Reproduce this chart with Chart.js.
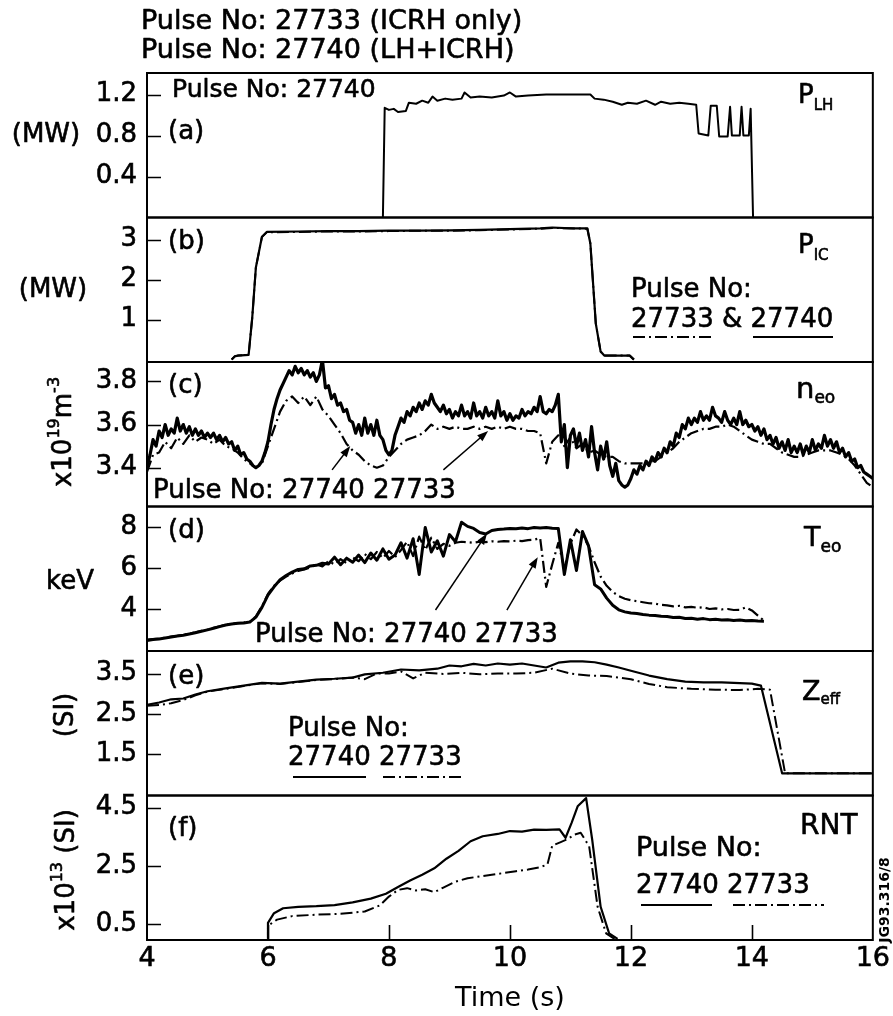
<!DOCTYPE html>
<html>
<head>
<meta charset="utf-8">
<title>JET pulses 27733 / 27740</title>
<script src="https://cdn.jsdelivr.net/npm/chart.js@4.4.1/dist/chart.umd.min.js"></script>
<style>
  html, body { margin: 0; padding: 0; background: #fff; }
  canvas { display: block; }
</style>
</head>
<body>
<canvas id="plot" width="893" height="1016" style="width:893px;height:1016px"></canvas>
<script>
// ---- shared time axis ----
const timeRange = [4, 16];
const timeTicks = [4, 6, 8, 10, 12, 14, 16];
const timeInnerTicks = [6, 8, 10, 12, 14];

// ---- (a) LH power, pulse 27740 (MW) ----
const plhTime = [7.9,7.93,8.0,8.08,8.15,8.28,8.33,8.45,8.55,8.65,8.72,8.8,8.93,9.05,9.2,9.25,9.35,9.5,9.7,9.9,
  10.0,10.1,10.3,10.6,10.9,11.2,11.33,11.4,11.55,11.7,11.85,11.95,12.1,12.25,12.4,12.5,12.65,12.8,12.95,
  13.08,13.12,13.28,13.32,13.42,13.46,13.6,13.64,13.67,13.8,13.83,13.86,13.95,13.98,14.02];
const plh27740 = [0,1.07,1.05,1.06,1.03,1.04,1.12,1.11,1.14,1.12,1.18,1.14,1.16,1.15,1.16,1.22,1.17,1.18,1.17,1.19,
  1.22,1.18,1.19,1.20,1.20,1.20,1.20,1.16,1.15,1.13,1.10,1.12,1.11,1.14,1.10,1.13,1.11,1.12,1.11,
  1.10,0.82,0.80,1.09,1.09,0.79,0.79,1.08,0.80,0.80,1.08,0.80,0.80,1.06,0];

// ---- (b) ICRH power (MW) ----
const picTime = [5.4,5.45,5.5,5.68,5.74,5.8,5.9,5.98,6.5,7.0,7.5,8.0,8.5,9.0,9.5,10.0,10.5,10.7,11.0,11.28,11.33,11.42,11.5,11.56,11.98,12.05];
const pic27733 = [0,0.08,0.1,0.12,1.05,2.3,3.06,3.18,3.19,3.2,3.2,3.21,3.22,3.22,3.23,3.25,3.27,3.29,3.28,3.27,2.9,0.9,0.2,0.1,0.1,0];
const pic27740 = [0,0.08,0.1,0.12,1.05,2.3,3.07,3.19,3.2,3.21,3.21,3.22,3.22,3.23,3.24,3.26,3.28,3.3,3.28,3.28,2.9,0.9,0.2,0.1,0.1,0];

// ---- (c) central electron density (x10^19 m^-3), sampled from t = 4 s ----
const neoStart = 4.0;
const neo27740Step = 0.05;
const neo27740 = [
  3.40,3.46,3.53,3.50,3.57,3.54,3.60,3.55,3.58,3.56,3.63,3.57,3.60,3.56,3.59,3.55,3.58,3.55,3.57,3.54,
  3.56,3.54,3.56,3.53,3.55,3.52,3.54,3.51,3.52,3.48,3.50,3.46,3.47,3.44,3.43,3.41,3.40,3.41,3.43,3.47,
  3.52,3.60,3.67,3.72,3.76,3.79,3.82,3.85,3.83,3.87,3.84,3.86,3.83,3.85,3.82,3.84,3.80,3.83,3.90,3.77,
  3.78,3.72,3.74,3.69,3.70,3.66,3.67,3.62,3.61,3.56,3.60,3.55,3.63,3.56,3.60,3.55,3.62,3.55,3.53,3.48,
  3.46,3.48,3.55,3.59,3.63,3.61,3.66,3.64,3.68,3.66,3.70,3.67,3.71,3.69,3.74,3.70,3.68,3.66,3.69,3.65,
  3.67,3.63,3.66,3.64,3.69,3.64,3.66,3.63,3.70,3.64,3.66,3.63,3.68,3.64,3.66,3.63,3.71,3.64,3.66,3.62,
  3.65,3.62,3.64,3.63,3.67,3.64,3.66,3.65,3.68,3.66,3.73,3.66,3.65,3.67,3.66,3.69,3.74,3.52,3.60,3.40,
  3.55,3.58,3.50,3.56,3.48,3.53,3.45,3.59,3.47,3.39,3.50,3.44,3.52,3.41,3.36,3.42,3.34,3.32,3.31,3.32,
  3.35,3.39,3.37,3.41,3.39,3.43,3.41,3.45,3.43,3.47,3.45,3.49,3.47,3.52,3.50,3.56,3.54,3.60,3.58,3.63,
  3.60,3.63,3.61,3.66,3.62,3.64,3.62,3.68,3.64,3.63,3.61,3.66,3.62,3.60,3.63,3.60,3.66,3.60,3.62,3.59,
  3.60,3.57,3.59,3.55,3.58,3.53,3.55,3.51,3.54,3.49,3.52,3.48,3.53,3.47,3.50,3.47,3.51,3.46,3.50,3.47,
  3.53,3.48,3.51,3.49,3.55,3.50,3.53,3.49,3.52,3.47,3.49,3.45,3.47,3.43,3.44,3.40,3.41,3.38,3.37,3.36,3.35];
const neo27733Step = 0.1;
const neo27733 = [
  3.38,3.46,3.47,3.52,3.49,3.54,3.51,3.55,3.52,3.54,
  3.53,3.51,3.53,3.50,3.49,3.47,3.44,3.42,3.40,3.42,
  3.50,3.58,3.66,3.71,3.73,3.70,3.73,3.69,3.73,3.67,
  3.64,3.60,3.56,3.51,3.48,3.46,3.43,3.41,3.40,3.41,
  3.45,3.48,3.51,3.53,3.54,3.55,3.57,3.60,3.58,3.59,
  3.58,3.59,3.58,3.58,3.59,3.58,3.59,3.58,3.59,3.58,
  3.59,3.58,3.58,3.57,3.57,3.56,3.42,3.52,3.55,3.50,
  3.54,3.49,3.51,3.47,3.48,3.46,3.45,3.45,3.43,3.42,
  3.42,3.42,3.42,3.43,3.43,3.45,3.47,3.49,3.52,3.54,
  3.56,3.57,3.58,3.58,3.59,3.59,3.60,3.59,3.57,3.55,
  3.53,3.52,3.51,3.51,3.49,3.47,3.46,3.45,3.45,3.46,
  3.47,3.48,3.48,3.48,3.47,3.46,3.44,3.41,3.37,3.33,
  3.31];

// ---- (d) central electron temperature (keV), sampled every 0.1 s from t = 4 s ----
const teoStart = 4.0;
const teoStep = 0.1;
const teo27740 = [
  2.48,2.53,2.56,2.60,2.65,2.70,2.74,2.80,2.86,2.93,
  3.00,3.08,3.16,3.24,3.29,3.32,3.34,3.38,3.62,4.10,
  4.70,5.10,5.45,5.65,5.82,5.95,5.98,6.12,6.15,6.25,
  6.22,6.55,6.18,6.50,6.30,6.65,6.28,6.75,6.40,6.95,
  6.45,6.65,7.25,6.50,7.45,5.70,8.00,6.80,7.35,6.60,
  7.65,7.30,8.25,8.05,7.95,7.75,7.68,7.85,7.90,7.92,
  7.95,7.93,7.97,7.94,8.00,7.97,7.99,7.96,7.95,5.70,
  7.40,5.90,7.80,7.10,5.20,5.00,4.55,4.20,3.98,3.88,
  3.82,3.80,3.75,3.72,3.70,3.66,3.65,3.60,3.62,3.56,
  3.57,3.52,3.55,3.50,3.52,3.48,3.50,3.46,3.48,3.45,
  3.46,3.43,3.42];
const teo27733 = [
  2.52,2.55,2.58,2.62,2.67,2.71,2.76,2.82,2.88,2.95,
  3.02,3.10,3.18,3.25,3.30,3.33,3.36,3.40,3.65,4.15,
  4.75,5.15,5.40,5.60,5.75,5.88,5.95,6.05,6.20,6.10,
  6.35,6.20,6.45,6.25,6.55,6.35,6.70,6.45,6.80,6.50,
  6.85,6.55,6.90,7.30,6.60,7.55,6.90,7.50,6.95,7.20,
  7.10,7.25,7.30,7.28,7.25,7.30,7.28,7.32,7.30,7.33,
  7.32,7.35,7.33,7.38,7.40,7.48,5.10,6.20,7.25,6.00,
  7.20,7.90,7.60,7.10,6.30,5.60,5.15,4.85,4.65,4.52,
  4.45,4.40,4.35,4.30,4.28,4.22,4.20,4.15,4.17,4.10,
  4.12,4.08,4.10,4.02,4.05,4.00,4.02,3.97,3.98,4.10,
  3.95,3.70,3.45];

// ---- (e) Zeff ----
const zeffTime27740 = [4.0,4.2,4.4,4.6,4.8,5.0,5.3,5.6,5.9,6.2,6.5,6.8,7.1,7.4,7.6,7.9,8.2,8.5,8.8,9.0,9.2,9.4,9.6,9.8,
  10.0,10.2,10.4,10.6,10.8,11.0,11.2,11.4,11.6,11.8,12.0,12.3,12.6,12.9,13.2,13.5,13.8,14.0,14.15,14.5,16.0];
const zeff27740 = [2.72,2.78,2.86,2.88,2.98,3.06,3.13,3.20,3.27,3.25,3.30,3.35,3.37,3.40,3.48,3.52,3.60,3.58,3.62,3.70,3.68,3.74,3.70,3.75,
  3.72,3.75,3.70,3.65,3.77,3.80,3.80,3.78,3.72,3.65,3.57,3.45,3.36,3.30,3.28,3.28,3.26,3.25,3.20,1.02,1.02];
const zeffTime27733 = [4.0,4.2,4.4,4.6,4.8,5.0,5.3,5.6,5.9,6.2,6.5,6.8,7.1,7.4,7.6,7.8,8.0,8.2,8.4,8.6,8.9,9.2,9.5,9.8,
  10.1,10.4,10.7,11.0,11.3,11.6,12.0,12.3,12.6,13.0,13.4,13.8,14.1,14.3,14.55,16.0];
const zeff27733 = [2.70,2.72,2.76,2.84,2.96,3.05,3.12,3.19,3.26,3.24,3.29,3.34,3.36,3.40,3.36,3.50,3.50,3.55,3.38,3.52,3.49,3.52,3.48,3.50,
  3.50,3.52,3.62,3.50,3.45,3.44,3.36,3.24,3.16,3.12,3.10,3.09,3.12,3.10,1.02,1.02];

// ---- (f) neutron rate RNT (x10^13) ----
const rntTime27740 = [6.0,6.0,6.1,6.25,6.5,6.8,7.1,7.4,7.7,7.95,8.15,8.35,8.55,8.75,8.95,9.15,9.35,9.55,9.8,10.0,
  10.2,10.4,10.6,10.82,10.92,11.02,11.12,11.26,11.36,11.5,11.64,11.78];
const rnt27740 = [0,0.55,0.88,1.05,1.1,1.12,1.16,1.25,1.38,1.55,1.78,2.0,2.2,2.42,2.75,3.02,3.35,3.52,3.6,3.7,
  3.68,3.75,3.74,3.76,3.47,3.98,4.55,4.83,3.41,1.1,0.19,0];
const rntTime27733 = [6.0,6.0,6.15,6.4,6.8,7.2,7.6,7.85,8.0,8.15,8.3,8.45,8.6,8.75,8.9,9.1,9.3,9.5,9.7,9.9,
  10.1,10.3,10.5,10.62,10.7,10.84,10.95,11.07,11.17,11.31,11.45,11.59,11.73];
const rnt27733 = [0,0.45,0.66,0.78,0.83,0.86,0.94,1.15,1.45,1.68,1.74,1.66,1.70,1.60,1.76,1.96,2.08,2.14,2.2,2.26,
  2.32,2.38,2.46,2.55,3.2,3.32,3.42,3.58,3.64,3.18,1.1,0.19,0];

// ---- y ranges and tick values per panel ----
const rangeA = [0, 1.41],    ticksA = [0.4, 0.8, 1.2];
const rangeB = [-0.06, 3.55], ticksB = [1, 2, 3];
const rangeC = [3.22, 3.89], ticksC = [3.4, 3.6, 3.8];
const rangeD = [1.97, 9.02], ticksD = [4, 6, 8];
const rangeE = [0.47, 4.06], ticksE = [1.5, 2.5, 3.5];
const rangeF = [-0.04, 4.92], ticksF = [0.5, 2.5, 4.5];

// ---------------------------------------------------------------
const FONT = '"DejaVu Sans", "Liberation Sans", sans-serif';
const INK = 0.6; // slight outline so the lettering carries the same weight as the traces
Chart.defaults.font.family = FONT;
Chart.defaults.color = '#000';

const pairs = (times, values) => times.map((t, i) => ({ x: t, y: values[i] }));
const sampled = (start, step, values) => values.map((v, i) => ({ x: +(start + i * step).toFixed(3), y: v }));

const DASHDOT = [12, 4, 2, 4];
function trace(label, axis, points, dashed, width) {
  return {
    label, data: points, yAxisID: axis,
    borderColor: '#000', backgroundColor: '#000',
    borderWidth: width, borderDash: dashed ? DASHDOT : [],
    borderJoinStyle: 'round', borderCapStyle: 'butt',
    pointRadius: 0, pointHoverRadius: 0, tension: 0, fill: false
  };
}

// panels listed top to bottom
const panels = [
  { id: 'ya', range: rangeA, ticks: ticksA, digits: 1 },
  { id: 'yb', range: rangeB, ticks: ticksB, digits: 0 },
  { id: 'yc', range: rangeC, ticks: ticksC, digits: 1 },
  { id: 'yd', range: rangeD, ticks: ticksD, digits: 0 },
  { id: 'ye', range: rangeE, ticks: ticksE, digits: 1 },
  { id: 'yf', range: rangeF, ticks: ticksF, digits: 1 }
];

const datasets = [
  trace('PLH 27740', 'ya', pairs(plhTime, plh27740), false, 2),
  trace('PIC 27733', 'yb', pairs(picTime, pic27733), true, 2),
  trace('PIC 27740', 'yb', pairs(picTime, pic27740), false, 2.2),
  trace('neo 27733', 'yc', sampled(neoStart, neo27733Step, neo27733), true, 2.2),
  trace('neo 27740', 'yc', sampled(neoStart, neo27740Step, neo27740), false, 3.2),
  trace('Teo 27733', 'yd', sampled(teoStart, teoStep, teo27733), true, 2.2),
  trace('Teo 27740', 'yd', sampled(teoStart, teoStep, teo27740), false, 3),
  trace('Zeff 27733', 'ye', pairs(zeffTime27733, zeff27733), true, 2),
  trace('Zeff 27740', 'ye', pairs(zeffTime27740, zeff27740), false, 2.2),
  trace('RNT 27733', 'yf', pairs(rntTime27733, rnt27733), true, 2),
  trace('RNT 27740', 'yf', pairs(rntTime27740, rnt27740), false, 2.2)
];

const scales = {
  x: {
    type: 'linear', min: timeRange[0], max: timeRange[1],
    afterBuildTicks: s => { s.ticks = timeTicks.map(v => ({ value: v })); },
    afterFit: s => { s.height = 76; },
    grid: { display: false, drawTicks: false },
    border: { display: false },
    ticks: { font: { size: 27 }, padding: 3, maxRotation: 0, autoSkip: false, color: '#000',
             textStrokeColor: '#000', textStrokeWidth: INK, callback: v => String(v) },
    title: { display: true, text: 'Time (s)', font: { size: 27 }, color: '#000', padding: { top: 0, bottom: 1 } }
  }
};
// stacked left axes are laid out bottom-up, so register the lowest panel first
panels.slice().reverse().forEach(p => {
  scales[p.id] = {
    type: 'linear', position: 'left', stack: 'panels', stackWeight: 1,
    min: p.range[0], max: p.range[1],
    afterBuildTicks: s => { s.ticks = p.ticks.map(v => ({ value: v })); },
    afterFit: s => { s.width = 147; },
    grid: { display: false, drawTicks: false },
    border: { display: false },
    ticks: { font: { size: 26 }, padding: 10, autoSkip: false, color: '#000',
             textStrokeColor: '#000', textStrokeWidth: INK, callback: v => Number(v).toFixed(p.digits) }
  };
});

// ---- text helpers ----
function drawParts(ctx, parts, x, y, align) {
  let w = 0;
  parts.forEach(([t, size, dy, weight]) => { ctx.font = (weight || '') + ' ' + size + 'px ' + FONT; w += ctx.measureText(t).width; });
  let cx = align === 'center' ? x - w / 2 : align === 'right' ? x - w : x;
  ctx.textAlign = 'left';
  ctx.textBaseline = 'alphabetic';
  ctx.lineWidth = INK;
  ctx.lineJoin = 'round';
  parts.forEach(([t, size, dy, weight]) => {
    ctx.font = (weight || '') + ' ' + size + 'px ' + FONT;
    ctx.fillText(t, cx, y + (dy || 0));
    if (!weight) ctx.strokeText(t, cx, y + (dy || 0));
    cx += ctx.measureText(t).width;
  });
}

// Labels placed around the panels (pixel layout)
const labels = [
  { parts: [['Pulse No: 27733 (ICRH only)', 27]], x: 141, y: 29 },
  { parts: [['Pulse No: 27740 (LH+ICRH)', 27]], x: 141, y: 58 },
  // y axis titles
  { parts: [['(MW)', 26]], x: 46, y: 142, align: 'center' },
  { parts: [['(MW)', 26]], x: 53, y: 297, align: 'center' },
  { parts: [['x10', 26], ['19', 16, -12], ['m', 26], ['-3', 16, -12]], x: 62, y: 432, align: 'center', rot: true },
  { parts: [['keV', 26]], x: 70, y: 589, align: 'center' },
  { parts: [['(SI)', 26]], x: 64, y: 715, align: 'center', rot: true },
  { parts: [['x10', 26], ['13', 16, -12], [' (SI)', 26]], x: 65, y: 870, align: 'center', rot: true },
  // quantity names
  { parts: [['P', 26], ['LH', 15, 7]], x: 798, y: 103 },
  { parts: [['P', 26], ['IC', 15, 7]], x: 798, y: 253 },
  { parts: [['n', 29], ['eo', 17, 5]], x: 796, y: 398 },
  { parts: [['T', 27], ['eo', 17, 6]], x: 804, y: 546 },
  { parts: [['Z', 27], ['eff', 15, 4]], x: 802, y: 700 },
  { parts: [['RNT', 28]], x: 800, y: 834 },
  // panel letters
  { parts: [['(a)', 26]], x: 168, y: 139 },
  { parts: [['(b)', 26]], x: 168, y: 249 },
  { parts: [['(c)', 26]], x: 168, y: 393 },
  { parts: [['(d)', 26]], x: 168, y: 538 },
  { parts: [['(e)', 26]], x: 168, y: 684 },
  { parts: [['(f)', 26]], x: 168, y: 836 },
  // pulse annotations
  { parts: [['Pulse No: 27740', 25]], x: 172, y: 97 },
  { parts: [['Pulse No:', 26]], x: 631, y: 297 },
  { parts: [['27733 & 27740', 26]], x: 631, y: 327 },
  { parts: [['Pulse No: 27740 27733', 26]], x: 153, y: 498 },
  { parts: [['Pulse No: 27740 27733', 26]], x: 255, y: 642 },
  { parts: [['Pulse No:', 26]], x: 288, y: 736 },
  { parts: [['27740 27733', 26]], x: 288, y: 765 },
  { parts: [['Pulse No:', 27]], x: 636, y: 856 },
  { parts: [['27740 27733', 26]], x: 636, y: 893 },
  { parts: [['JG93.316/8', 14, 0, 'bold']], x: 884, y: 900, align: 'center', rot: true }
];

// line-style keys under the pulse numbers
const keys = [
  { x0: 633, x1: 713, y: 337, dashed: true },
  { x0: 753, x1: 833, y: 337, dashed: false },
  { x0: 293, x1: 366, y: 777, dashed: false },
  { x0: 383, x1: 465, y: 777, dashed: true },
  { x0: 641, x1: 712, y: 905, dashed: false },
  { x0: 733, x1: 824, y: 905, dashed: true }
];

// arrows in data coordinates: [axis, tFrom, vFrom, tTo, vTo]
const arrows = [
  ['yc', 7.06, 3.39, 7.36, 3.50],
  ['yc', 8.90, 3.39, 9.64, 3.57],
  ['yd', 8.77, 3.97, 9.62, 7.70],
  ['yd', 9.95, 3.97, 10.46, 6.55]
];

const decor = {
  id: 'decor',
  afterDatasetsDraw(chart) {
    const { ctx, chartArea: ca, scales: sc } = chart;
    ctx.save();
    ctx.strokeStyle = '#000';
    ctx.fillStyle = '#000';
    ctx.setLineDash([]);
    // panel frames and inward ticks
    ctx.lineWidth = 2;
    panels.forEach(p => {
      const s = sc[p.id];
      ctx.strokeRect(ca.left, s.top, ca.right - ca.left, s.bottom - s.top);
      ctx.beginPath();
      p.ticks.forEach(v => {
        const y = Math.round(s.getPixelForValue(v)) + 0.5;
        ctx.moveTo(ca.left, y);
        ctx.lineTo(ca.left + 14, y);
      });
      ctx.lineWidth = 1.6;
      ctx.stroke();
      ctx.lineWidth = 2;
    });
    // time ticks on the bottom panel
    ctx.beginPath();
    timeInnerTicks.forEach(t => {
      const x = Math.round(sc.x.getPixelForValue(t)) + 0.5;
      ctx.moveTo(x, ca.bottom);
      ctx.lineTo(x, ca.bottom - 15);
    });
    ctx.lineWidth = 1.6;
    ctx.stroke();

    // arrows
    arrows.forEach(([axis, t0, v0, t1, v1]) => {
      const x0 = sc.x.getPixelForValue(t0), y0 = sc[axis].getPixelForValue(v0);
      const x1 = sc.x.getPixelForValue(t1), y1 = sc[axis].getPixelForValue(v1);
      const ang = Math.atan2(y1 - y0, x1 - x0);
      ctx.lineWidth = 1.5;
      ctx.beginPath();
      ctx.moveTo(x0, y0);
      ctx.lineTo(x1 - 8 * Math.cos(ang), y1 - 8 * Math.sin(ang));
      ctx.stroke();
      ctx.beginPath();
      ctx.moveTo(x1, y1);
      ctx.lineTo(x1 - 11 * Math.cos(ang) + 4 * Math.sin(ang), y1 - 11 * Math.sin(ang) - 4 * Math.cos(ang));
      ctx.lineTo(x1 - 11 * Math.cos(ang) - 4 * Math.sin(ang), y1 - 11 * Math.sin(ang) + 4 * Math.cos(ang));
      ctx.closePath();
      ctx.fill();
    });

    // line-style keys
    keys.forEach(k => {
      ctx.lineWidth = 2;
      ctx.setLineDash(k.dashed ? DASHDOT : []);
      ctx.beginPath();
      ctx.moveTo(k.x0, k.y);
      ctx.lineTo(k.x1, k.y);
      ctx.stroke();
    });
    ctx.setLineDash([]);

    // text
    labels.forEach(l => {
      if (l.rot) {
        ctx.save();
        ctx.translate(l.x, l.y);
        ctx.rotate(-Math.PI / 2);
        drawParts(ctx, l.parts, 0, l.parts[0][1] * 0.36, 'center');
        ctx.restore();
      } else {
        drawParts(ctx, l.parts, l.x, l.y, l.align || 'left');
      }
    });
    ctx.restore();
  }
};

new Chart(document.getElementById('plot'), {
  type: 'line',
  data: { datasets },
  options: {
    responsive: false,
    animation: false,
    events: [],
    layout: { padding: { top: 73, right: 16, bottom: 0, left: 0 } },
    plugins: { legend: { display: false }, tooltip: { enabled: false }, title: { display: false } },
    scales
  },
  plugins: [decor]
});
</script>
</body>
</html>
